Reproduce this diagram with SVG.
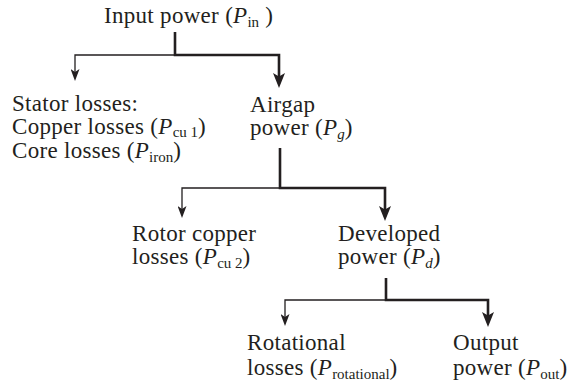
<svg xmlns="http://www.w3.org/2000/svg" width="579" height="386" viewBox="0 0 579 386">
<style>
text{font-family:"Liberation Serif","Times New Roman",serif;font-size:23px;fill:#231f20;letter-spacing:0.3px}
.i{font-style:italic}
.s{font-size:15px;letter-spacing:0}
.thick{fill:none;stroke:#231f20;stroke-width:2.6}
.thin{fill:none;stroke:#231f20;stroke-width:1.3}
</style>
<defs>
<marker id="ahThin" viewBox="0 0 12 9" refX="7" refY="4.5" markerWidth="12" markerHeight="9" markerUnits="userSpaceOnUse" orient="auto">
<path d="M0,0 L12,4.5 L0,9 L3,4.5 Z" fill="#231f20"/>
</marker>
<marker id="ahThick" viewBox="0 0 15 12" refX="9" refY="6" markerWidth="15" markerHeight="12" markerUnits="userSpaceOnUse" orient="auto">
<path d="M0,0 L15,6 L0,12 L3.5,6 Z" fill="#231f20"/>
</marker>
</defs>
<rect width="579" height="386" fill="#ffffff"/>
<g id="connectors">
<path class="thin" d="M175,55 H75 V76" marker-end="url(#ahThin)"/>
<path class="thick" d="M175,32 V55 H279 V82" marker-end="url(#ahThick)"/>
<path class="thin" d="M280,188 H182 V213" marker-end="url(#ahThin)"/>
<path class="thick" d="M280,148 V188 H385 V215" marker-end="url(#ahThick)"/>
<path class="thin" d="M386,300 H285 V321" marker-end="url(#ahThin)"/>
<path class="thick" d="M386,278 V300 H488 V321" marker-end="url(#ahThick)"/>
</g>
<g id="input">
<text x="104" y="23">Input power (<tspan class="i">P</tspan><tspan class="s" dy="3.5">in</tspan><tspan dy="-3.5"> )</tspan></text>
</g>
<g id="stator">
<text x="12" y="110.5">Stator losses:</text>
<text x="12" y="133.5">Copper losses (<tspan class="i">P</tspan><tspan class="s" dy="3">cu 1</tspan><tspan dy="-3">)</tspan></text>
<text x="12" y="158">Core losses (<tspan class="i">P</tspan><tspan class="s" dy="3.5">iron</tspan><tspan dy="-3.5">)</tspan></text>
</g>
<g id="airgap">
<text x="250" y="112">Airgap</text>
<text x="250" y="135">power (<tspan class="i">P</tspan><tspan class="s i" dy="3.5">g</tspan><tspan dy="-3.5">)</tspan></text>
</g>
<g id="rotor">
<text x="132" y="241">Rotor copper</text>
<text x="132" y="264">losses (<tspan class="i">P</tspan><tspan class="s" dy="3.5">cu 2</tspan><tspan dy="-3.5">)</tspan></text>
</g>
<g id="developed">
<text x="338" y="241">Developed</text>
<text x="338" y="264">power (<tspan class="i">P</tspan><tspan class="s i" dy="3.5">d</tspan><tspan dy="-3.5">)</tspan></text>
</g>
<g id="rotational">
<text x="247" y="350">Rotational</text>
<text x="247" y="375">losses (<tspan class="i">P</tspan><tspan class="s" dy="3.5">rotational</tspan><tspan dy="-3.5">)</tspan></text>
</g>
<g id="output">
<text x="453" y="350">Output</text>
<text x="453" y="375">power (<tspan class="i">P</tspan><tspan class="s" dy="3.5">out</tspan><tspan dy="-3.5">)</tspan></text>
</g>
</svg>
